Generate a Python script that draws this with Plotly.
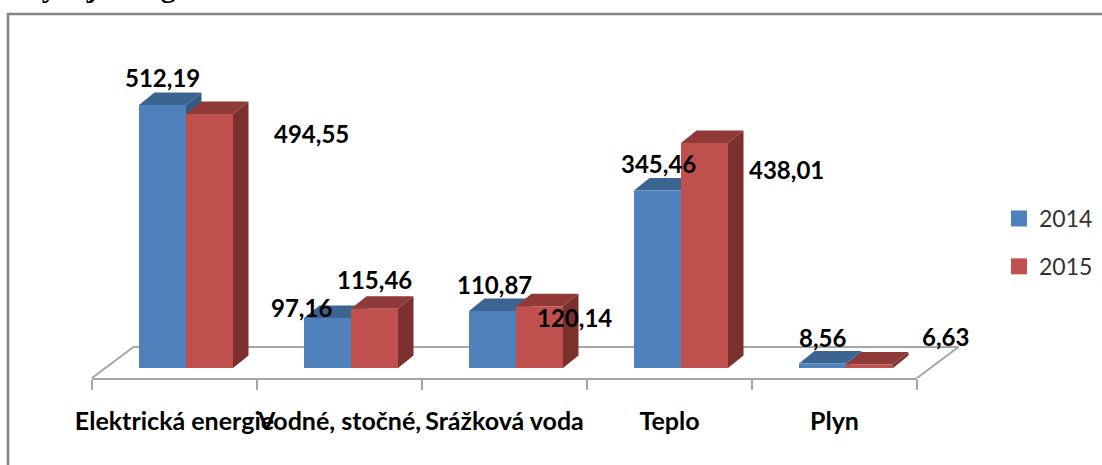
import plotly.graph_objects as go

categories = ["Elektrická energie", "Vodné, stočné,", "Srážková voda", "Teplo", "Plyn"]
values_2014 = [512.19, 97.16, 110.87, 345.46, 8.56]
values_2015 = [494.55, 115.46, 120.14, 438.01, 6.63]
labels_2014 = ["512,19", "97,16", "110,87", "345,46", "8,56"]
labels_2015 = ["494,55", "115,46", "120,14", "438,01", "6,63"]
years = ["2014", "2015"]

W, H = 1102, 465
L, R, T, B = 92, 975, 20, 378      # outer plot box in px (room for the floor depth)
AXIS_R = 917                       # right end of the category axis
BASE_PX = 368                      # pixel of value 0
PX_PER_UNIT = 0.5135
CAT_PX = (AXIS_R - L) / 5
ymin = -(B - BASE_PX) / PX_PER_UNIT
ymax = (BASE_PX - T) / PX_PER_UNIT

BAR_W = 47 / CAT_PX
OFF = [-35.5 / CAT_PX, 11.5 / CAT_PX]
DX = 15.5 / CAT_PX
DY = 12.5 / PX_PER_UNIT
FLOOR_DX = 41.5 / CAT_PX
FLOOR_DY = 31 / PX_PER_UNIT

BLUE, BLUE_TOP, BLUE_SIDE = "#4f81bd", "#3c6491", "#375a85"
RED, RED_TOP, RED_SIDE = "#c0504d", "#8f3a38", "#7b302e"
GRID = "#a6a6a6"

fig = go.Figure()

# floor
x0, x1 = -0.5, 4.5
fig.add_trace(go.Scatter(
    x=[x0, x0 + FLOOR_DX, x1 + FLOOR_DX, x1], y=[ymin, ymin + FLOOR_DY, ymin + FLOOR_DY, ymin],
    mode="lines", line=dict(color=GRID, width=2), hoverinfo="skip", showlegend=False,
    xaxis="x", yaxis="y", cliponaxis=False))


def faces(values, off, top_col, side_col):
    for i, v in enumerate(values):
        l = i + off
        r = l + BAR_W
        fig.add_trace(go.Scatter(
            x=[r, r + DX, r + DX, r, r], y=[0, DY, v + DY, v, 0], mode="lines", fill="toself",
            fillcolor=side_col, line=dict(width=0, color=side_col), hoverinfo="skip", showlegend=False))
        fig.add_trace(go.Scatter(
            x=[l, l + DX, r + DX, r, l], y=[v, v + DY, v + DY, v, v], mode="lines", fill="toself",
            fillcolor=top_col, line=dict(width=0, color=top_col), hoverinfo="skip", showlegend=False))


faces(values_2014, OFF[0], BLUE_TOP, BLUE_SIDE)
faces(values_2015, OFF[1], RED_TOP, RED_SIDE)

for name, vals, col, off in zip(years, [values_2014, values_2015], [BLUE, RED], OFF):
    fig.add_trace(go.Bar(
        x=categories, y=vals, name=name, width=BAR_W, offset=off, marker=dict(color=col, line=dict(width=0)),
        xaxis="x2", yaxis="y", legendgroup=name, showlegend=False))
    fig.add_trace(go.Scatter(
        x=[None], y=[None], name=name, mode="markers", legendgroup=name,
        marker=dict(symbol="square", size=16, color=col), xaxis="x", yaxis="y"))

# data labels (moved by hand in the original chart): px offset from bar front centre/top
shift_2014 = [(0, 27), (-26, 11), (2, 27), (1, 27), (0, 26)]
shift_2015 = [(102, -19), (0, 29), (35, -11), (82, -26), (76, 28)]
for vals, labs, off, shifts in [(values_2014, labels_2014, OFF[0], shift_2014),
                                (values_2015, labels_2015, OFF[1], shift_2015)]:
    for i, (v, t, s) in enumerate(zip(vals, labs, shifts)):
        fig.add_annotation(x=i + off + BAR_W / 2, y=v, xref="x", yref="y", text=t, showarrow=False,
                           xshift=s[0], yshift=s[1], xanchor="center", yanchor="middle",
                           font=dict(family="Lato", size=24, color="#000000", weight="bold"))

fig.update_layout(
    width=W, height=H, autosize=False,
    margin=dict(l=L, r=W - R, t=T, b=H - B),
    paper_bgcolor="white", plot_bgcolor="rgba(0,0,0,0)",
    showlegend=True, barmode="overlay",
    font=dict(family="Lato"),
    legend=dict(x=999 / W, xref="container", xanchor="left", y=(H - 197) / H, yref="container", yanchor="top",
                tracegroupgap=15, font=dict(family="Lato", size=23, color="#333333"),
                bgcolor="rgba(0,0,0,0)", itemclick=False, itemdoubleclick=False),
    xaxis=dict(range=[x0, x0 + (R - L) / CAT_PX], domain=[0, 1], visible=False, fixedrange=True),
    xaxis2=dict(anchor="y", side="bottom", type="category", range=[x0, x1], domain=[0, (AXIS_R - L) / (R - L)],
                categoryorder="array", categoryarray=categories,
                tickson="boundaries", ticks="outside", ticklen=10, tickwidth=2, tickcolor=GRID,
                showline=True, linecolor=GRID, linewidth=2, showgrid=False, zeroline=False,
                ticklabelstandoff=20,
                tickfont=dict(family="Lato", size=25, color="#000000", weight="bold"), tickangle=0),
    yaxis=dict(range=[ymin, ymax], visible=False, fixedrange=True),
    shapes=[dict(type="rect", xref="paper", yref="paper", layer="below",
                 x0=(8 - L) / (R - L), x1=(W + 20 - L) / (R - L),
                 y0=(B - (H + 20)) / (B - T), y1=(B - 14) / (B - T),
                 line=dict(color="#868686", width=2.5), fillcolor="white")],
)
fig.add_annotation(xref="paper", yref="paper", x=(18 - L) / (R - L), y=(B + 14) / (B - T), xanchor="left", yanchor="middle",
                   text="Vývoj energií v rokoch 2014 a 2015", showarrow=False,
                   font=dict(family="Liberation Serif", size=30, color="#000000", weight="bold"))

fig.write_html("out.html", config={"displayModeBar": False}, post_script="document.body.style.margin='0';")
